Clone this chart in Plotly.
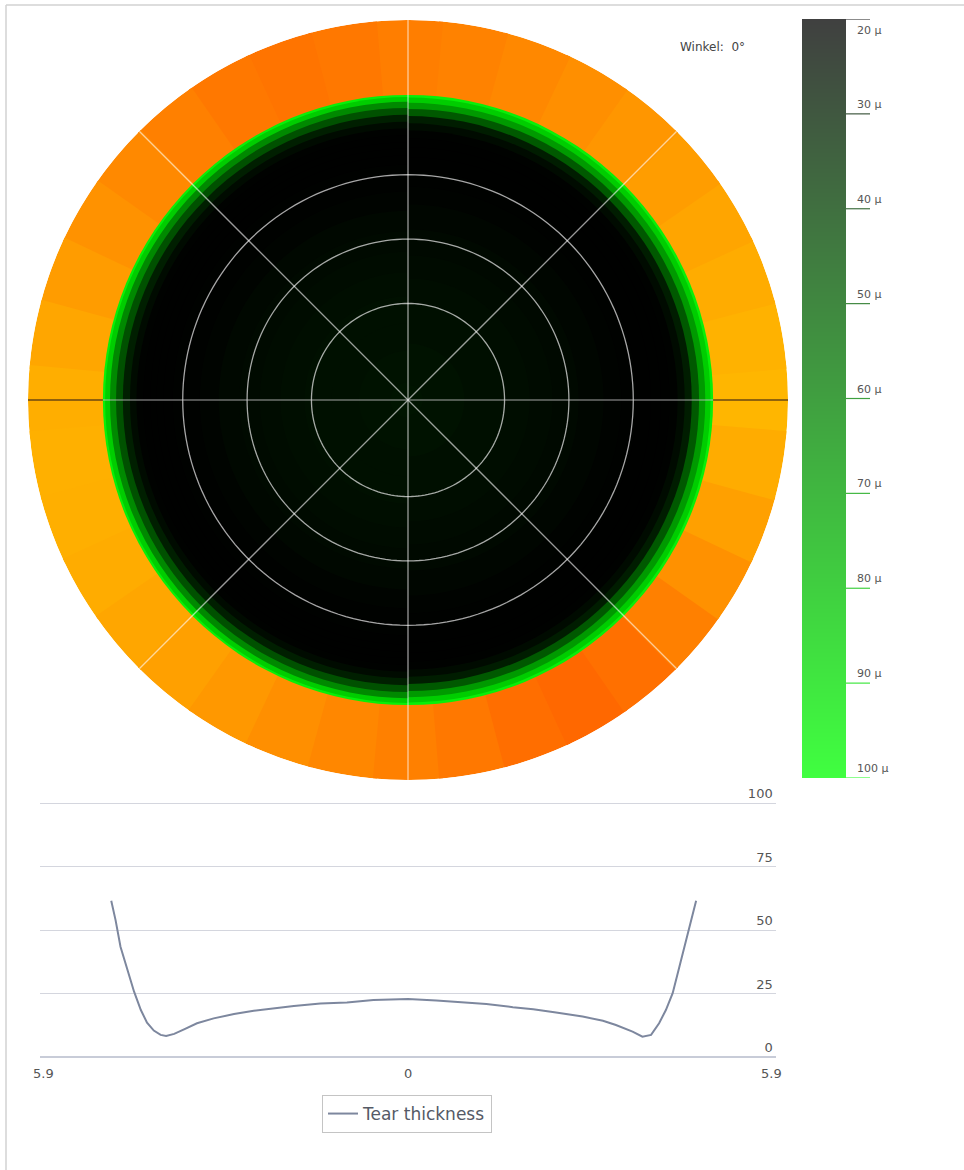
import plotly.graph_objects as go
from plotly.colors import sample_colorscale

# ---------------- data ----------------
# tear thickness profile along 0° meridian (mm from centre, µm)
tear_x = [-4.81, -4.74, -4.66, -4.55, -4.44, -4.33, -4.23, -4.12, -4.01, -3.92,
          -3.79, -3.63, -3.42, -3.15, -2.82, -2.50, -2.18, -1.85, -1.42, -0.99,
          -0.56, 0.00, 0.46, 1.27, 1.70, 2.03, 2.40, 2.83, 3.16, 3.37,
          3.64, 3.80, 3.94, 4.07, 4.18, 4.29, 4.40, 4.51, 4.59, 4.67]
tear_um = [61.5, 53.9, 43.4, 34.3, 25.7, 18.5, 13.5, 10.4, 8.7, 8.3,
           9.1, 10.9, 13.3, 15.2, 16.9, 18.2, 19.2, 20.1, 21.1, 21.5,
           22.4, 22.8, 22.2, 20.9, 19.6, 18.8, 17.5, 15.9, 14.3, 12.6,
           10.0, 8.0, 8.7, 13.3, 18.5, 25.1, 35.6, 46.1, 53.9, 61.5]

# outer (unmeasured) ring shading, read around the disc (deg, green channel of orange)
ring_theta = [0, 10, 20, 30, 40, 50, 60, 70, 80, 90, 100, 110,
              120, 130, 140, 150, 160, 170, 180, 190, 200, 210, 220, 230,
              240, 250, 260, 270, 280, 290, 300, 310, 320, 330, 340, 350]
ring_g = [182, 178, 172, 165, 157, 150, 143, 136, 130, 126, 120, 116,
          120, 128, 137, 146, 156, 166, 174, 176, 175, 172, 166, 160,
          152, 143, 135, 128, 120, 110, 104, 112, 128, 145, 160, 172]

# colour bar levels (µm)
cbar_levels = [20, 30, 40, 50, 60, 70, 80, 90, 100]

# line chart ticks
x_tickvals = [-5.9, 0, 5.9]
x_ticktext = ["5.9", "0", "5.9"]
y_tickvals = [0, 25, 50, 75, 100]

# geometry of the map (mm)
RING_INNER = 4.93
RING_OUTER = 6.14
grid_radii = [1.56, 2.60, 3.64]
spoke_angles = [45, 90, 135]

W, H = 964, 1170
def px(x):
    return x / W
def py(y):
    return 1 - y / H

map_scale = [[0.0, "rgb(0,0,0)"], [0.2, "rgb(0,2,0)"], [0.32, "rgb(0,18,0)"],
             [0.38, "rgb(0,35,0)"], [0.5, "rgb(0,85,0)"], [0.65, "rgb(0,150,0)"],
             [0.78, "rgb(0,210,0)"], [0.9, "rgb(10,245,10)"], [1.0, "rgb(40,255,40)"]]
cbar_scale = [[0.0, "rgb(64,64,64)"], [1.0, "rgb(64,255,64)"]]

fig = go.Figure()

# ---- outer orange ring ----
fig.add_trace(go.Barpolar(
    r=[RING_OUTER] * len(ring_theta), theta=ring_theta, width=[10.6] * len(ring_theta),
    marker=dict(color=[f"rgb(255,{g},0)" for g in ring_g], line=dict(width=0)),
    showlegend=False, hoverinfo="skip", subplot="polar"))

# ---- inner thickness map from the profile (left half / right half) ----
def half_disks(side):
    pts = [(abs(x), v) for x, v in zip(tear_x, tear_um) if (x <= 0 if side == "L" else x >= 0)]
    pts.sort()
    k = RING_INNER / pts[-1][0]          # profile end -> edge of the measured zone
    pts = [(r * k, v) for r, v in pts]
    radii, vals = [], []
    for i, (r, v) in enumerate(pts):
        outer = RING_INNER if i == len(pts) - 1 else (r + pts[i + 1][0]) / 2
        radii.append(outer)
        vals.append(v)
    order = sorted(range(len(radii)), key=lambda j: -radii[j])
    return [radii[j] for j in order], [vals[j] for j in order]

for side, th in (("L", 180), ("R", 0)):
    rr, vv = half_disks(side)
    fig.add_trace(go.Barpolar(
        r=rr, theta=[th] * len(rr), width=[180] * len(rr),
        marker=dict(color=vv, colorscale=map_scale, cmin=0, cmax=70, line=dict(width=0)),
        showlegend=False, hoverinfo="skip", subplot="polar"))

# ---- grid circles & spokes ----
circ_theta = list(range(0, 361, 2))
for gr in grid_radii:
    fig.add_trace(go.Scatterpolar(
        r=[gr] * len(circ_theta), theta=circ_theta, mode="lines",
        line=dict(color="rgba(255,255,255,0.65)", width=1.3),
        showlegend=False, hoverinfo="skip", subplot="polar"))
sr, st = [], []
for a in spoke_angles:
    sr += [RING_OUTER, 0, RING_OUTER, None]
    st += [a, a, a + 180, None]
fig.add_trace(go.Scatterpolar(
    r=sr, theta=st, mode="lines", line=dict(color="rgba(255,255,255,0.6)", width=1.3),
    showlegend=False, hoverinfo="skip", subplot="polar"))
fig.add_trace(go.Scatterpolar(
    r=[RING_INNER, 0, RING_INNER], theta=[0, 0, 180], mode="lines",
    line=dict(color="rgba(200,200,200,0.55)", width=1.4),
    showlegend=False, hoverinfo="skip", subplot="polar"))
fig.add_trace(go.Scatterpolar(
    r=[RING_INNER, RING_OUTER, None, RING_INNER, RING_OUTER],
    theta=[0, 0, None, 180, 180], mode="lines",
    line=dict(color="rgba(70,45,20,0.8)", width=1.6),
    showlegend=False, hoverinfo="skip", subplot="polar"))

# ---- colour bar ----
fig.add_trace(go.Heatmap(
    z=[[v, v] for v in cbar_levels], x=[0, 1], y=cbar_levels,
    colorscale=cbar_scale, zmin=20, zmax=100, zsmooth="best", showscale=False,
    hoverinfo="skip", xaxis="x3", yaxis="y3"))

# ---- thickness profile line ----
fig.add_trace(go.Scatter(
    x=tear_x, y=tear_um, mode="lines", name="Tear thickness",
    line=dict(color="#7d879e", width=2), xaxis="x2", yaxis="y2"))

shapes = []
annotations = []
for i, v in enumerate(cbar_levels):
    col = sample_colorscale(cbar_scale, (v - 20) / 80)[0]
    shapes.append(dict(type="line", xref="paper", yref="y3", x0=px(846), x1=px(870),
                       y0=v, y1=v, line=dict(color=col, width=1.2)))
    annotations.append(dict(xref="paper", yref="y3", x=px(855), y=v, text=f"{v} µ",
                            showarrow=False, xanchor="left",
                            yanchor="top" if i == 0 else "bottom",
                            yshift=-3 if i == 0 else 1,
                            font=dict(size=11, color="#555555")))

# x-axis labels of the profile chart
for tv, tt in zip(x_tickvals, x_ticktext):
    annotations.append(dict(xref="x2", yref="paper", x=tv, y=py(1064), text=tt,
                            showarrow=False, xanchor="center", yanchor="top",
                            font=dict(size=13, color="#555555")))

annotations.append(dict(xref="paper", yref="paper", x=px(712), y=py(47), text="Winkel:  0°",
                        showarrow=False, xanchor="center", yanchor="middle",
                        font=dict(size=12, color="#444444")))

# frame
shapes.append(dict(type="line", xref="paper", yref="paper", x0=px(6), x1=1.0,
                   y0=py(5), y1=py(5), line=dict(color="#d2d2d2", width=1.5)))
shapes.append(dict(type="line", xref="paper", yref="paper", x0=px(6), x1=px(6),
                   y0=py(5), y1=0, line=dict(color="#d2d2d2", width=1.5)))

# line-chart geometry: 0 at y=1057px, 100 at y=803px; -5.9 at x=44px, 5.9 at x=772px
Y_TOP = 108
X_EXT = 5.96
ypx_per = (1057 - 803) / 100
xpx_per = (772 - 44) / 11.8

fig.update_layout(
    template="none",
    width=W, height=H, margin=dict(l=0, r=0, t=0, b=0),
    paper_bgcolor="white", plot_bgcolor="white",
    font=dict(family="DejaVu Sans", color="#555555"),
    hovermode=False,
    polar=dict(
        domain=dict(x=[px(28), px(788)], y=[py(780), py(20)]),
        bgcolor="rgba(0,0,0,0)", barmode="overlay", bargap=0,
        radialaxis=dict(visible=False, range=[0, RING_OUTER]),
        angularaxis=dict(visible=False, rotation=0, direction="counterclockwise"),
    ),
    xaxis2=dict(domain=[px(408 - X_EXT * xpx_per), px(408 + X_EXT * xpx_per)], anchor="y2",
                range=[-X_EXT, X_EXT], showticklabels=False,
                showgrid=False, showline=False, zeroline=False, ticks=""),
    yaxis2=dict(domain=[py(1057), py(1057 - Y_TOP * ypx_per)], anchor="x2", range=[0, Y_TOP],
                tickvals=y_tickvals, side="right", ticklabelposition="inside top",
                showgrid=True, gridcolor="#d4d6de", gridwidth=1.2, zeroline=True,
                zerolinecolor="#c8ccd8", zerolinewidth=1.6,
                showline=False, ticks="", tickfont=dict(size=13, color="#555555")),
    xaxis3=dict(domain=[px(802), px(846)], anchor="y3", range=[-0.5, 1.5], visible=False),
    yaxis3=dict(domain=[py(778), py(19)], anchor="x3", range=[100, 20], visible=False),
    showlegend=True,
    legend=dict(orientation="h", x=px(407), xanchor="center", y=py(1095), yanchor="top",
                bordercolor="#c4c4c4", borderwidth=1, bgcolor="white",
                font=dict(size=17, color="#555a66")),
    shapes=shapes, annotations=annotations,
)

fig.write_html("out.html", config={"displayModeBar": False},
               post_script="document.body.style.margin='0';document.body.style.overflow='hidden';")
